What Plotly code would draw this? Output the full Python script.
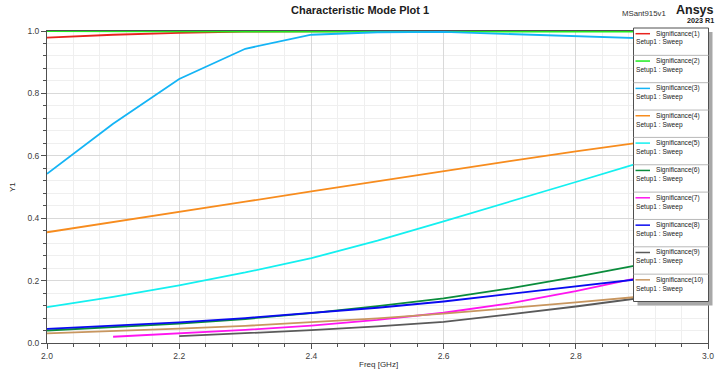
import plotly.graph_objects as go

freq = [2.0, 2.1, 2.2, 2.3, 2.4, 2.5, 2.6, 2.7, 2.8, 2.9, 3.0]

sig1 = [0.979, 0.988, 0.994, 0.998, 0.999, 1.0, 1.0, 1.0, 1.0, 1.0, 1.0]
sig2 = [1.0, 0.999, 0.999, 0.998, 0.998, 0.998, 0.998, 0.998, 0.998, 0.998, 0.998]
sig3 = [0.542, 0.703, 0.846, 0.943, 0.988, 0.996, 0.997, 0.99, 0.982, 0.975, 0.97]
sig4 = [0.355, 0.387, 0.420, 0.453, 0.486, 0.519, 0.551, 0.583, 0.614, 0.644, 0.673]
sig5 = [0.115, 0.148, 0.185, 0.226, 0.272, 0.328, 0.390, 0.452, 0.516, 0.580, 0.640]
sig6 = [0.040, 0.050, 0.062, 0.077, 0.096, 0.118, 0.143, 0.175, 0.212, 0.252, 0.297]
sig7 = [None, 0.020, 0.030, 0.042, 0.056, 0.074, 0.097, 0.127, 0.166, 0.211, 0.262]
sig8 = [0.045, 0.055, 0.066, 0.080, 0.096, 0.113, 0.133, 0.157, 0.180, 0.204, 0.230]
sig9 = [None, None, 0.022, 0.031, 0.041, 0.053, 0.068, 0.092, 0.117, 0.145, 0.178]
sig10 = [0.031, 0.038, 0.046, 0.055, 0.066, 0.079, 0.094, 0.111, 0.130, 0.149, 0.170]

series_names = ["Significance(%d)" % i for i in range(1, 11)]
series_values = [sig1, sig2, sig3, sig4, sig5, sig6, sig7, sig8, sig9, sig10]
series_sub = "Setup1 : Sweep"
colors = ["#E8231E", "#1EEB1E", "#14B4F5", "#F78C1E", "#14F0F0",
          "#0A8C3C", "#FF14F0", "#0A0AF0", "#5A5A5A", "#C8965F"]

FONT = "Liberation Sans"
W, H = 720, 373
L, R, T, B = 47, 708, 31, 343

def px(x):
    return (x - L) / (R - L)

def py(y):
    return (B - y) / (B - T)

fig = go.Figure()
for name, vals, col in zip(series_names, series_values, colors):
    fig.add_trace(go.Scatter(x=freq, y=vals, mode="lines", name=name,
                             line=dict(color=col, width=1.8), showlegend=False))

shapes = []
annotations = []

# custom legend
lx0, lx1, ly0, ly1 = 633.5, 708.5, 28, 301.5
shapes.append(dict(type="rect", xref="paper", yref="paper", layer="above",
                   x0=px(lx0 + 4), x1=px(lx1 + 4), y0=py(ly0 + 4), y1=py(ly1 + 4),
                   fillcolor="#a8a8a8", line=dict(width=0)))
shapes.append(dict(type="rect", xref="paper", yref="paper", layer="above",
                   x0=px(lx0), x1=px(lx1), y0=py(ly0), y1=py(ly1),
                   fillcolor="white", line=dict(color="#505050", width=1)))
eh = (ly1 - ly0) / len(series_names)
for i, (name, col) in enumerate(zip(series_names, colors)):
    top = ly0 + i * eh
    if i > 0:
        shapes.append(dict(type="line", xref="paper", yref="paper", layer="above",
                           x0=px(lx0), x1=px(lx1), y0=py(top), y1=py(top),
                           line=dict(color="#b8b8b8", width=1)))
    shapes.append(dict(type="line", xref="paper", yref="paper", layer="above",
                       x0=px(635.5), x1=px(650), y0=py(top + 5.7), y1=py(top + 5.7),
                       line=dict(color=col, width=1.5)))
    annotations.append(dict(xref="paper", yref="paper", x=px(656), y=py(top + 5.7),
                            text=name, showarrow=False, xanchor="left", yanchor="middle",
                            xshift=-1, borderpad=0,
                            font=dict(size=6.6, color="#202020", family=FONT)))
    annotations.append(dict(xref="paper", yref="paper", x=px(635.5), y=py(top + 14.5),
                            text=series_sub, showarrow=False, xanchor="left", yanchor="middle",
                            xshift=-1, borderpad=0,
                            font=dict(size=6.6, color="#202020", family=FONT)))

# header texts
annotations.append(dict(xref="paper", yref="paper", x=px(360), y=py(9.5),
                        text="<b>Characteristic Mode Plot 1</b>", showarrow=False,
                        xanchor="center", yanchor="middle", borderpad=0,
                        font=dict(size=11, color="#202020", family=FONT)))
annotations.append(dict(xref="paper", yref="paper", x=px(622), y=py(13.5),
                        text="MSant915v1", showarrow=False, xanchor="left", yanchor="middle",
                        xshift=-1, borderpad=0,
                        font=dict(size=7.8, color="#303030", family=FONT)))
annotations.append(dict(xref="paper", yref="paper", x=px(714), y=py(9.5),
                        text="<b>Ansys</b>", showarrow=False, xanchor="right", yanchor="middle",
                        xshift=1, borderpad=0,
                        font=dict(size=12.5, color="#202020", family=FONT)))
annotations.append(dict(xref="paper", yref="paper", x=px(714), y=py(20.5),
                        text="<b>2023 R1</b>", showarrow=False, xanchor="right", yanchor="middle",
                        xshift=1, borderpad=0,
                        font=dict(size=7.2, color="#202020", family=FONT)))
# axis titles
annotations.append(dict(xref="paper", yref="paper", x=px(378), y=py(364),
                        text="Freq [GHz]", showarrow=False, xanchor="center", yanchor="middle",
                        borderpad=0, font=dict(size=8, color="#303030", family=FONT)))
annotations.append(dict(xref="paper", yref="paper", x=px(12), y=py(187),
                        text="Y1", showarrow=False, xanchor="center", yanchor="middle",
                        textangle=-90, borderpad=0,
                        font=dict(size=8, color="#303030", family=FONT)))

axis_common = dict(showline=True, linecolor="#505050", linewidth=1, mirror=True,
                   ticks="outside", ticklen=5, tickcolor="#505050",
                   gridcolor="#d9d9d9", gridwidth=1, zeroline=False, automargin=False,
                   tickfont=dict(size=8.5, color="#404040", family=FONT))

fig.update_layout(
    width=W, height=H,
    margin=dict(l=L, r=W - R, t=T, b=H - B, autoexpand=False),
    paper_bgcolor="white", plot_bgcolor="white",
    xaxis=dict(range=[2.0, 3.0], dtick=0.2, tickformat=".1f",
               minor=dict(dtick=0.04, ticks="outside", ticklen=3, tickcolor="#505050",
                          showgrid=True, gridcolor="#efefef"),
               **axis_common),
    yaxis=dict(range=[0.0, 1.0], dtick=0.2, tickformat=".1f",
               minor=dict(dtick=0.04, ticks="outside", ticklen=3, tickcolor="#505050",
                          showgrid=True, gridcolor="#efefef"),
               **axis_common),
    shapes=shapes,
    annotations=annotations,
)

fig.write_html("out.html", config={"displayModeBar": False},
               post_script="document.body.style.margin='0';document.body.style.overflow='hidden';")
